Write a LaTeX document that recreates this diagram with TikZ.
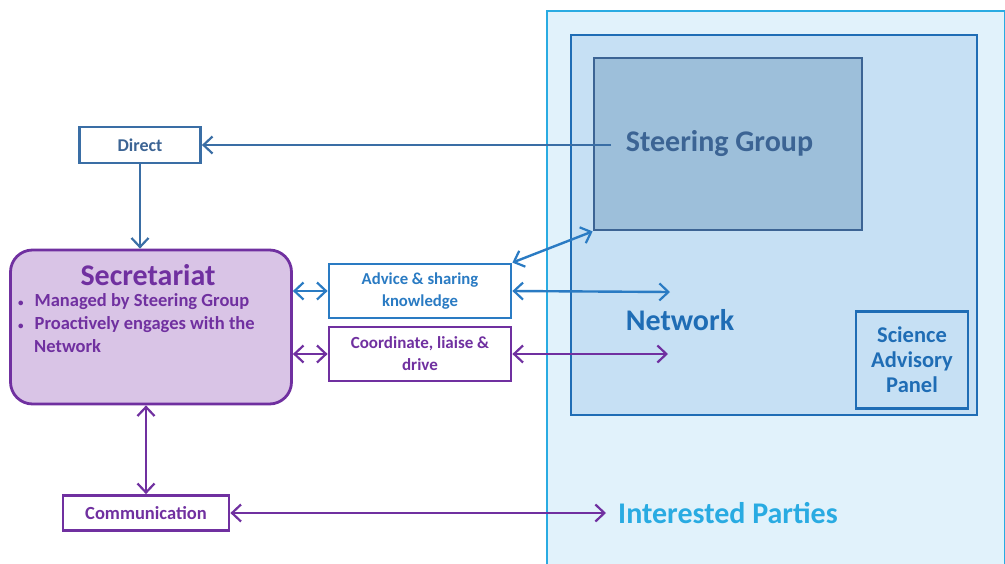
\documentclass[tikz,border=0pt]{standalone}
\usepackage{fontspec}
\setmainfont{Carlito}
\usetikzlibrary{arrows.meta}

\definecolor{ipfill}{HTML}{E1F2FB}
\definecolor{ipline}{HTML}{29ABE2}
\definecolor{netfill}{HTML}{C6E0F4}
\definecolor{netline}{HTML}{1F6DB5}
\definecolor{sgfill}{HTML}{9DBFDA}
\definecolor{sgline}{HTML}{3C6494}
\definecolor{dirblue}{HTML}{3A6EA5}
\definecolor{advblue}{HTML}{2A7BC3}
\definecolor{purp}{HTML}{7030A0}
\definecolor{secfill}{HTML}{D9C4E6}

\begin{document}
\begin{tikzpicture}[x=1pt,y=-1pt,
  every node/.style={inner sep=0pt,font=\bfseries},
  box/.style={draw,rectangle,line width=2.8pt},
  tip/.style={-{Straight Barb[length=9pt,width=17pt,line width=2.2pt]}},
  tips/.style={{Straight Barb[length=9pt,width=17pt,line width=2.2pt]}-{Straight Barb[length=9pt,width=17pt,line width=2.2pt]}},
  conn/.style={line width=2.4pt}]
\clip (0,0) rectangle (1005,563);
\fill[white] (0,0) rectangle (1005,563);
\node[box,draw=ipline,fill=ipfill,minimum width=458pt,minimum height=560pt] (ip) at (776,291) {};
\node[box,draw=netline,fill=netfill,minimum width=406pt,minimum height=380pt] (net) at (774,225) {};
\node[box,draw=sgline,fill=sgfill,minimum width=268pt,minimum height=172pt,text=sgline,font=\bfseries\fontsize{30}{34}\selectfont] (sg) at (728,144) {\hspace*{-17pt}Steering Group};
\node[box,draw=netline,minimum width=112pt,minimum height=97pt,text=netline,align=center,font=\bfseries\fontsize{22.5}{25}\selectfont] (sap) at (912,360) {Science\\Advisory\\Panel};
\node[text=netline,font=\bfseries\fontsize{30}{34}\selectfont] (nettxt) at (680,320) {Network};
\node[text=ipline,font=\bfseries\fontsize{30}{34}\selectfont] (iptxt) at (728,513) {Interested Parties};
\node[box,draw=dirblue,fill=white,minimum width=121pt,minimum height=36pt,text=sgline,font=\bfseries\fontsize{18}{20}\selectfont] (direct) at (140,145) {Direct};
\node[box,draw=purp,fill=secfill,rounded corners=22pt,minimum width=281pt,minimum height=154pt] (sec) at (151,327) {};
\node[text=purp,font=\bfseries\fontsize{30}{34}\selectfont] (sectitle) at (148,275) {Secretariat};
\node[text=purp,anchor=north west,align=left,font=\bfseries\fontsize{18.5}{23}\selectfont] (secpts) at (18,293)
  {{\fontsize{11}{11}\selectfont\textbullet}\hspace{11pt}Managed by Steering Group\\{\fontsize{11}{11}\selectfont\textbullet}\hspace{11pt}Proactively engages with the\\\hspace*{16pt}Network};
\node[box,draw=advblue,fill=white,minimum width=182pt,minimum height=54pt,text=advblue,align=center,font=\bfseries\fontsize{16.7}{22}\selectfont] (advice) at (420,291) {Advice \& sharing\\knowledge};
\node[box,draw=purp,fill=white,minimum width=182pt,minimum height=54pt,text=purp,align=center,font=\bfseries\fontsize{17}{22}\selectfont] (coord) at (420,354) {Coordinate, liaise \&\\drive};
\node[box,draw=purp,fill=white,minimum width=166pt,minimum height=35pt,text=purp,font=\bfseries\fontsize{18.5}{20}\selectfont] (comm) at (146,513) {Communication};
\coordinate (sgin) at (611,145);
\coordinate (netup) at (670,292);
\coordinate (netlow) at (668,354);
\coordinate (ipin) at (606,513);
\draw[conn,tip,dirblue] (sgin) -- (direct.east);
\draw[conn,tip,dirblue] (direct.south) -- (direct.south |- sec.north);
\draw[conn,tips,advblue] (advice.west -| sec.east) -- (advice.west);
\draw[conn,tips,purp] (coord.west -| sec.east) -- (coord.west);
\draw[conn,tips,advblue] (advice.north east) -- (sg.south west);
\draw[conn,tips,advblue] (advice.east) -- (netup);
\draw[conn,tips,purp] (coord.east) -- (netlow);
\draw[conn,tips,purp] (comm.north |- sec.south) -- (comm.north);
\draw[conn,tips,purp] (comm.east) -- (ipin);
\end{tikzpicture}
\end{document}
